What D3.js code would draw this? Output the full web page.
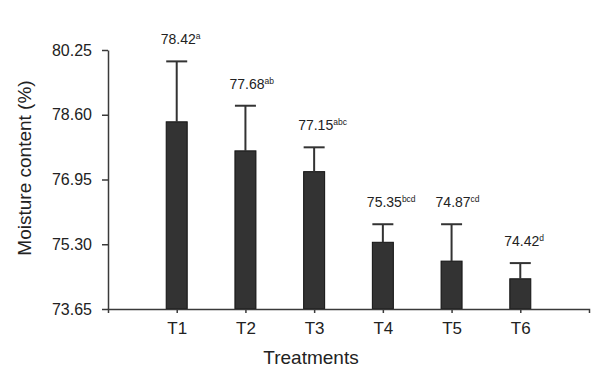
<!DOCTYPE html>
<html>
<head>
<meta charset="utf-8">
<script src="https://cdn.jsdelivr.net/npm/d3@7"></script>
<style>
  body { margin: 0; background: #fff; }
  text { font-family: "Liberation Sans", Arial, sans-serif; fill: #222; }
</style>
</head>
<body>
<div class="div-chart"></div>
<script>
// data
const treatments = ['T1', 'T2', 'T3', 'T4', 'T5', 'T6'];
const means = [78.42, 77.68, 77.15, 75.35, 74.87, 74.42];
const errors = [1.54, 1.15, 0.62, 0.46, 0.94, 0.40];
const letters = ['a', 'ab', 'abc', 'bcd', 'cd', 'd'];
const yTicks = [73.65, 75.30, 76.95, 78.60, 80.25];

const width = 597, height = 375;
const data = treatments.map((t, i) => ({ t, mean: means[i], err: errors[i], sig: letters[i] }));

const svg = d3.select('.div-chart')
    .append('svg')
    .attr('width', width)
    .attr('height', height);

const xScale = d3.scalePoint()
    .domain(treatments)
    .range([108, 589])
    .padding(1);

const yScale = d3.scaleLinear()
    .domain([73.65, 80.25])
    .range([309, 50]);

const barW = 21;
const axisColor = '#3a3a3a';

// bars
svg.selectAll('.bar')
    .data(data)
    .enter().append('rect')
    .attr('class', 'bar')
    .attr('x', d => xScale(d.t) - barW / 2)
    .attr('y', d => yScale(d.mean))
    .attr('width', barW)
    .attr('height', d => yScale(73.65) - yScale(d.mean))
    .attr('fill', '#333')
    .attr('stroke', '#111')
    .attr('stroke-width', 1);

// error bars (upper half)
svg.selectAll('.err')
    .data(data)
    .enter().append('line')
    .attr('x1', d => xScale(d.t))
    .attr('x2', d => xScale(d.t))
    .attr('y1', d => yScale(d.mean))
    .attr('y2', d => yScale(d.mean + d.err))
    .attr('stroke', '#333')
    .attr('stroke-width', 2);

svg.selectAll('.cap')
    .data(data)
    .enter().append('line')
    .attr('x1', d => xScale(d.t) - barW / 2)
    .attr('x2', d => xScale(d.t) + barW / 2)
    .attr('y1', d => yScale(d.mean + d.err))
    .attr('y2', d => yScale(d.mean + d.err))
    .attr('stroke', '#333')
    .attr('stroke-width', 2);

// value labels with superscript letters
const lab = svg.selectAll('.lab')
    .data(data)
    .enter().append('text')
    .attr('class', 'lab')
    .attr('x', d => xScale(d.t) - 16)
    .attr('y', d => yScale(d.mean + d.err) - 17)
    .style('font-size', '14px');
lab.append('tspan').text(d => d.mean.toFixed(2));
lab.append('tspan')
    .attr('dy', -5)
    .style('font-size', '8.5px')
    .text(d => d.sig);

// y axis
const yAxis = svg.append('g')
    .attr('transform', 'translate(108,0)')
    .call(d3.axisLeft(yScale).tickValues(yTicks).tickFormat(d3.format('.2f'))
        .tickSize(6).tickSizeOuter(0).tickPadding(10));
yAxis.selectAll('text').style('font-size', '16px').attr('fill', '#222');
yAxis.selectAll('line, path').attr('stroke', axisColor).attr('stroke-width', 1.5);

// x axis
const xAxis = svg.append('g')
    .attr('transform', 'translate(0,309)')
    .call(d3.axisBottom(xScale).tickSize(4).tickSizeOuter(4).tickPadding(9));
xAxis.selectAll('text').style('font-size', '17px').attr('fill', '#222');
xAxis.selectAll('line, path').attr('stroke', axisColor).attr('stroke-width', 1.5);

// axis titles
svg.append('text')
    .attr('transform', 'translate(31,168) rotate(-90)')
    .attr('text-anchor', 'middle')
    .style('font-size', '19px')
    .text('Moisture content (%)');

svg.append('text')
    .attr('x', 311)
    .attr('y', 364)
    .attr('text-anchor', 'middle')
    .style('font-size', '19px')
    .text('Treatments');
</script>
</body>
</html>
